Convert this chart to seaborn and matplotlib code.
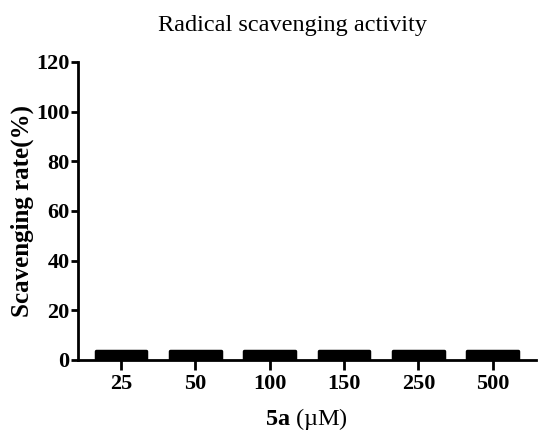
import matplotlib
matplotlib.use("Agg")
import matplotlib.pyplot as plt
import seaborn as sns
import pandas as pd

concentrations = ["25", "50", "100", "150", "250", "500"]
scavenging_rate = [3.8, 3.8, 3.8, 3.8, 3.8, 3.8]
y_ticks = [0, 20, 40, 60, 80, 100, 120]

sns.set_theme(style="ticks")
plt.rcParams['font.family'] = ['Liberation Serif', 'DejaVu Serif']
plt.rcParams['mathtext.fontset'] = 'custom'
plt.rcParams['mathtext.rm'] = 'Liberation Serif'
plt.rcParams['mathtext.bf'] = 'Liberation Serif:bold'
plt.rcParams['text.color'] = 'black'
plt.rcParams['axes.labelcolor'] = 'black'
plt.rcParams['xtick.color'] = 'black'
plt.rcParams['ytick.color'] = 'black'

df = pd.DataFrame({"conc": concentrations, "rate": scavenging_rate})

fig = plt.figure(figsize=(5.39, 4.32), dpi=100)
ax = fig.add_axes([0.1447, 0.1667, 0.994 - 0.1447, 0.8565 - 0.1667])

sns.barplot(data=df, x="conc", y="rate", order=concentrations, color="black",
            width=0.68, edgecolor="black", linewidth=2.5, ax=ax, saturation=1)
for p in ax.patches:
    p.set_joinstyle("round")

ax.set_xlim(-0.58, 5.58)
ax.set_ylim(0, 120)
ax.set_yticks(y_ticks)
ax.set_yticklabels([str(t) for t in y_ticks])

for s in ["top", "right"]:
    ax.spines[s].set_visible(False)
for s in ["left", "bottom"]:
    ax.spines[s].set_linewidth(2)
    ax.spines[s].set_color("black")

ax.tick_params(axis="y", direction="out", length=5, width=2, pad=1, labelsize=16)
ax.tick_params(axis="x", direction="out", length=7, width=2, pad=3, labelsize=16)
for lbl in ax.get_xticklabels() + ax.get_yticklabels():
    lbl.set_fontweight("bold")

ax.set_ylabel("Scavenging rate(%)", fontsize=18, fontweight="bold", labelpad=2)
ax.set_xlabel(r"$\mathbf{5a}$ (µM)", fontsize=17.5, labelpad=9)

fig.text(293 / 539, 1 - 26 / 432, "Radical scavenging activity", ha="center",
         va="center", fontsize=17.5)

fig.savefig("out.png", dpi=100)
